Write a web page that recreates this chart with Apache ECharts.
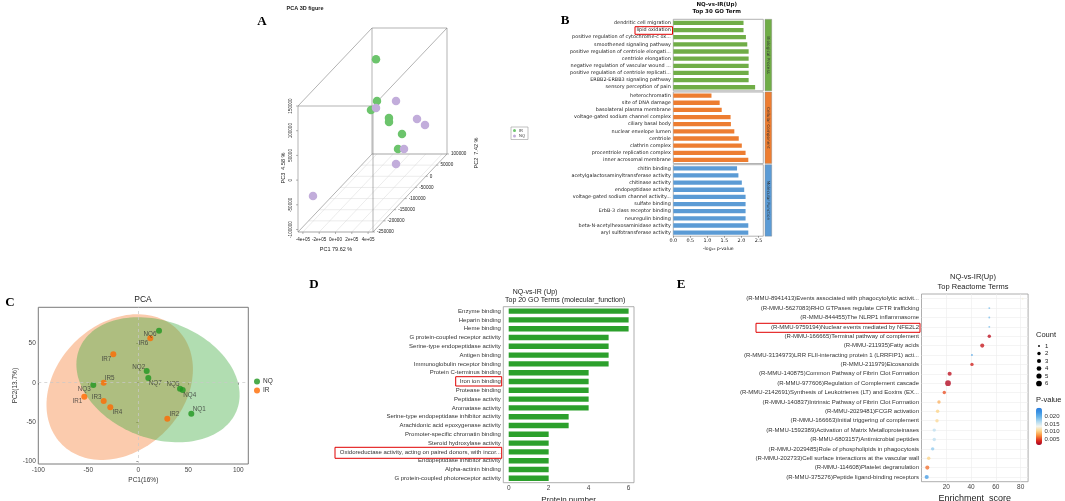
<!DOCTYPE html>
<html><head><meta charset="utf-8">
<style>html,body{margin:0;padding:0;background:#fff}#c{width:1065px;height:501px}</style>
<script src="https://cdn.jsdelivr.net/npm/echarts@6/dist/echarts.min.js"></script>
</head><body><div id="c"></div><script>
// ================= DATA =================
// Panel A : 3D PCA (PC1, PC2, PC3 scores)
const A_IR_PC1 = [-48000, 55000, 163000, 202000, 248000, 271000, 313000];
const A_IR_PC2 = [-40000, -75000, -145000, -75000, -92500, -40000, -75000];
const A_IR_PC3 = [150000, 81000, 94500, 47000, 46500, -1500, -16000];
const A_NQ_PC1 = [107000, 179000, 273500, 326000, 341000, 334000, -367000];
const A_NQ_PC2 = [-5000, -127500, 30000, 47500, -57500, -92500, -215000];
const A_NQ_PC3 = [49500, 90500, -2500, -22500, -24000, -38500, -48000];
const A_PC1_TICKS = [-400000, -200000, 0, 200000, 400000];
const A_PC1_TICK_LABELS = ['-4e+05', '-2e+05', '0e+00', '2e+05', '4e+05'];
const A_PC2_TICKS = [100000, 50000, 0, -50000, -100000, -150000, -200000, -250000];
const A_PC3_TICKS = [150000, 100000, 50000, 0, -50000, -100000];

// Panel B : Top 30 GO terms (-log10 p)
const B_BP_TERMS = ['dendritic cell migration', 'lipid oxidation', 'positive regulation of cytochrome-c ox...', 'smoothened signaling pathway', 'positive regulation of centriole elongati...', 'centriole elongation', 'negative regulation of vascular wound ...', 'positive regulation of centriole replicati...', 'ERBB2-ERBB3 signaling pathway', 'sensory perception of pain'];
const B_BP_VALUES = [2.06, 2.06, 2.13, 2.17, 2.21, 2.21, 2.21, 2.21, 2.21, 2.40];
const B_CC_TERMS = ['heterochromatin', 'site of DNA damage', 'basolateral plasma membrane', 'voltage-gated sodium channel complex', 'ciliary basal body', 'nuclear envelope lumen', 'centriole', 'clathrin complex', 'procentriole replication complex', 'inner acrosomal membrane'];
const B_CC_VALUES = [1.12, 1.36, 1.42, 1.68, 1.69, 1.79, 1.92, 2.01, 2.12, 2.20];
const B_MF_TERMS = ['chitin binding', 'acetylgalactosaminyltransferase activity', 'chitinase activity', 'endopeptidase activity', 'voltage-gated sodium channel activity...', 'sulfate binding', 'ErbB-3 class receptor binding', 'neuregulin binding', 'beta-N-acetylhexosaminidase activity', 'aryl sulfotransferase activity'];
const B_MF_VALUES = [1.87, 1.91, 2.01, 2.08, 2.12, 2.12, 2.12, 2.12, 2.20, 2.20];
const B_X_TICKS = [0, 0.5, 1.0, 1.5, 2.0, 2.5];

// Panel C : 2D PCA
const C_NQ_NAMES = ['NQ1', 'NQ2', 'NQ3', 'NQ4', 'NQ5', 'NQ6', 'NQ7'];
const C_NQ_PC1 = [53, 8.4, -45, 44.4, 41.7, 20.7, 10];
const C_NQ_PC2 = [-39.4, 14.9, -2.9, -9.3, -7.6, 66.2, 6];
const C_IR_NAMES = ['IR1', 'IR2', 'IR3', 'IR4', 'IR5', 'IR6', 'IR7'];
const C_IR_PC1 = [-54, 29, -34.6, -28, -34.6, 12, -25];
const C_IR_PC2 = [-17.8, -45.8, -23.3, -31.3, 0, 56.5, 36.1];
const C_X_TICKS = [-100, -50, 0, 50, 100];
const C_Y_TICKS = [-100, -50, 0, 50];
// group confidence ellipses (centre, semi-axes, tilt)
const C_ELLIPSE_IR = {cx: -18.6, cy: -5.5, rx: 72, ry: 92.5, kx: 0.143, ky: 0.083};
const C_ELLIPSE_NQ = {cx: 19.7, cy: 3.8, rx: 81, ry: 79, kx: -0.127, ky: -0.12};

// Panel D : Top 20 GO terms (protein number)
const D_TERMS = ['Enzyme binding', 'Heparin binding', 'Heme binding', 'G protein-coupled receptor activity', 'Serine-type endopeptidase activity', 'Antigen binding', 'Immunoglobulin receptor binding', 'Protein C-terminus binding', 'Iron ion binding', 'Protease binding', 'Peptidase activity', 'Aromatase activity', 'Serine-type endopeptidase inhibitor activity', 'Arachidonic acid epoxygenase activity', 'Promoter-specific chromatin binding', 'Steroid hydroxylase activity', 'Oxidoreductase activity, acting on paired donors, with incor...', 'Endopeptidase inhibitor activity', 'Alpha-actinin binding', 'G protein-coupled photoreceptor activity'];
const D_COUNTS = [6, 6, 6, 5, 5, 5, 5, 4, 4, 4, 4, 4, 3, 3, 2, 2, 2, 2, 2, 2];
const D_X_TICKS = [0, 2, 4, 6];

// Panel E : Top Reactome terms
const E_TERMS = ['(R-MMU-8941413)Events associated with phagocytolytic activit...', '(R-MMU-5627083)RHO GTPases regulate CFTR trafficking', '(R-MMU-844455)The NLRP1 inflammasome', '(R-MMU-9759194)Nuclear events mediated by NFE2L2', '(R-MMU-166665)Terminal pathway of complement', '(R-MMU-211935)Fatty acids', '(R-MMU-3134973)LRR FLII-interacting protein 1 (LRRFIP1) acti...', '(R-MMU-211979)Eicosanoids', '(R-MMU-140875)Common Pathway of Fibrin Clot Formation', '(R-MMU-977606)Regulation of Complement cascade', '(R-MMU-2142691)Synthesis of Leukotrienes (LT) and Eoxins (EX...', '(R-MMU-140837)Intrinsic Pathway of Fibrin Clot Formation', '(R-MMU-2029481)FCGR activation', '(R-MMU-166663)Initial triggering of complement', '(R-MMU-1592389)Activation of Matrix Metalloproteinases', '(R-MMU-6803157)Antimicrobial peptides', '(R-MMU-2029485)Role of phospholipids in phagocytosis', '(R-MMU-202733)Cell surface interactions at the vascular wall', '(R-MMU-114608)Platelet degranulation', '(R-MMU-375276)Peptide ligand-binding receptors'];
const E_SCORES = [81.6, 54.7, 54.7, 54.7, 54.7, 49, 40.7, 40.7, 22.7, 21.4, 18.4, 14.1, 13.0, 12.5, 10.3, 10.3, 9.0, 5.8, 4.7, 4.2];
const E_COUNTS = [1, 1, 1, 1, 2, 3, 1, 2, 3, 6, 2, 2, 2, 2, 2, 2, 2, 2, 3, 3];
const E_PVALUES = [0.013, 0.019, 0.019, 0.019, 0.0025, 0.003, 0.021, 0.0035, 0.0025, 0.002, 0.0055, 0.009, 0.0105, 0.011, 0.016, 0.016, 0.018, 0.0105, 0.0065, 0.022];
const E_X_TICKS = [20, 40, 60, 80];
const E_COUNT_LEVELS = [1, 2, 3, 4, 5, 6];
const E_P_TICKS = [0.020, 0.015, 0.010, 0.005];

// ================= STYLE / LAYOUT =================
const SANS = 'Liberation Sans';
const COUNT_SIZE = {1: 1.9, 2: 3.4, 3: 4.1, 4: 4.7, 5: 5.2, 6: 5.7};
const A_BOX = {pc1: [-460000, 460000], pc2: [-250000, 100000], pc3: [-105000, 150000]};
const A_FRONT = {x0: 298, x1: 373, y0: 232, y1: 106, dx: 74, dy: -78};
function projA(p1, p2, p3) {
  const fx = A_FRONT.x0 + (p1 - A_BOX.pc1[0]) / (A_BOX.pc1[1] - A_BOX.pc1[0]) * (A_FRONT.x1 - A_FRONT.x0);
  const fy = A_FRONT.y0 + (p3 - A_BOX.pc3[0]) / (A_BOX.pc3[1] - A_BOX.pc3[0]) * (A_FRONT.y1 - A_FRONT.y0);
  const d = (p2 - A_BOX.pc2[0]) / (A_BOX.pc2[1] - A_BOX.pc2[0]);
  return [fx + d * A_FRONT.dx, fy + d * A_FRONT.dy];
}
function txt(text, x, y, o) {
  o = o || {};
  return {type: 'text', x: x, y: y, rotation: o.rot || 0, z: 100,
    style: {text: text, fontSize: o.size || 6, fontFamily: o.family || SANS, fontWeight: o.weight || 'normal',
      fill: o.color || '#222', textAlign: o.align || 'center', align: o.align || 'center',
      textVerticalAlign: 'middle', verticalAlign: 'middle'}};
}
function lineEl(p, q, color, w) {
  return {type: 'line', shape: {x1: p[0], y1: p[1], x2: q[0], y2: q[1]}, style: {stroke: color, lineWidth: w}};
}

function renderABox(params, api) {
  const ch = [];
  const P = (a, b, c) => api.coord(projA(a, b, c));
  const [x0, x1] = A_BOX.pc1, [y0, y1] = A_BOX.pc2, [z0, z1] = A_BOX.pc3;
  A_PC1_TICKS.forEach(v => ch.push(lineEl(P(v, y0, z0), P(v, y1, z0), '#d9d9d9', 0.5)));
  A_PC2_TICKS.forEach(v => ch.push(lineEl(P(x0, v, z0), P(x1, v, z0), '#d9d9d9', 0.5)));
  const E = '#808080', W = 0.6;
  const corners = [[x0, y0, z0], [x1, y0, z0], [x1, y0, z1], [x0, y0, z1], [x0, y1, z0], [x1, y1, z0], [x1, y1, z1], [x0, y1, z1]];
  const edges = [[0,1],[1,2],[2,3],[3,0],[4,5],[5,6],[6,7],[7,4],[0,4],[1,5],[2,6],[3,7]];
  edges.forEach(e => ch.push(lineEl(P(...corners[e[0]]), P(...corners[e[1]]), E, W)));
  A_PC1_TICKS.forEach((v, i) => {
    const p = P(v, y0, z0);
    ch.push(lineEl(p, [p[0], p[1] + 2], E, W));
    ch.push(txt(A_PC1_TICK_LABELS[i], p[0], p[1] + 8, {size: 4.6}));
  });
  A_PC3_TICKS.forEach(v => {
    const p = P(x0, y0, v);
    ch.push(lineEl(p, [p[0] - 2, p[1]], E, W));
    ch.push(txt(String(v), p[0] - 7, p[1], {size: 4.6, rot: Math.PI / 2}));
  });
  A_PC2_TICKS.forEach(v => {
    const p = P(x1, v, z0);
    ch.push(lineEl(p, [p[0] + 2, p[1]], E, W));
    ch.push(txt(String(v), p[0] + 4, p[1], {size: 4.6, align: 'left'}));
  });
  return {type: 'group', children: ch};
}

function ellipsePts(e) {
  const pts = [];
  for (let i = 0; i < 140; i++) {
    const t = i / 140 * 2 * Math.PI;
    pts.push([e.cx + e.rx * Math.cos(t) + e.kx * e.ry * Math.sin(t), e.cy + e.ry * Math.sin(t) + e.ky * e.rx * Math.cos(t)]);
  }
  return pts;
}
const C_ELLIPSES = [C_ELLIPSE_IR, C_ELLIPSE_NQ];
const C_ELLIPSE_FILL = ['rgba(245,130,60,0.42)', 'rgba(60,170,60,0.40)'];
function renderEllipse(params, api) {
  const pts = ellipsePts(C_ELLIPSES[params.dataIndex]).map(p => api.coord(p));
  return {type: 'polygon', shape: {points: pts}, style: {fill: C_ELLIPSE_FILL[params.dataIndex], stroke: 'none'}};
}
const C_LABEL_OFFSET = {NQ1: [8, -4], NQ2: [-8, -4], NQ3: [-9, 4], NQ4: [7, 5], NQ5: [-7, -4], NQ6: [-9, 4], NQ7: [7, 5],
  IR1: [-7, 5], IR2: [7, -4], IR3: [-7, -4], IR4: [7, 5], IR5: [6, -4], IR6: [-7, 5], IR7: [-7, 5]};
function cData(names, xs, ys) {
  return names.map((n, i) => ({name: n, value: [xs[i], ys[i]], label: {offset: C_LABEL_OFFSET[n]}}));
}

const gridBase = {containLabel: false, outerBoundsMode: 'none'};
const B_TOPS = [19.3, 92.0, 164.7], B_H = 71.5, B_LEFT = 673.3, B_W = 90;
const grids = [
  Object.assign({left: 0, top: 0, width: 1065, height: 501}, gridBase),
  ...B_TOPS.map(t => Object.assign({left: B_LEFT, top: t, width: B_W, height: B_H, show: true, borderColor: '#a0a0a0', borderWidth: 0.8}, gridBase)),
  Object.assign({left: 38.3, top: 307.3, width: 210, height: 156.7, show: true, borderColor: '#7a7a7a', borderWidth: 1}, gridBase),
  Object.assign({left: 503.3, top: 306.7, width: 130.7, height: 176, show: true, borderColor: '#9a9a9a', borderWidth: 0.8}, gridBase),
  Object.assign({left: 921.5, top: 294, width: 106.6, height: 187.7, show: true, borderColor: '#9a9a9a', borderWidth: 0.8}, gridBase)
];

const bTerms = [B_BP_TERMS, B_CC_TERMS, B_MF_TERMS];
const bVals = [B_BP_VALUES, B_CC_VALUES, B_MF_VALUES];
const bColors = ['#70AD47', '#ED7D31', '#5B9BD5'];

const xAxes = [
  {gridIndex: 0, type: 'value', min: 0, max: 1065, show: false},
  ...[0, 1, 2].map(k => ({gridIndex: k + 1, type: 'value', min: 0, max: 2.64,
    axisLine: {show: false}, splitLine: {show: false},
    axisTick: {show: k === 2, length: 1.5, lineStyle: {color: '#333', width: 0.5}, customValues: B_X_TICKS},
    axisLabel: {show: k === 2, fontSize: 4.9, fontFamily: 'DejaVu Sans', color: '#222', margin: 2.5, customValues: B_X_TICKS, formatter: v => v.toFixed(1)},
    name: k === 2 ? '-log\u2081\u2080 p-value' : '', nameLocation: 'middle', nameGap: 10,
    nameTextStyle: {fontSize: 4.6, fontFamily: 'DejaVu Sans', color: '#222'}})),
  {gridIndex: 4, type: 'value', min: -100, max: 110, axisLine: {show: false}, splitLine: {show: false},
    axisTick: {length: 2, lineStyle: {color: '#555', width: 0.6}, customValues: C_X_TICKS},
    axisLabel: {fontSize: 6.5, color: '#444', margin: 2.5, customValues: C_X_TICKS},
    name: 'PC1(16%)', nameLocation: 'middle', nameGap: 13, nameTextStyle: {fontSize: 6.5, color: '#333'}},
  {gridIndex: 5, type: 'value', min: -0.27, max: 6.27, axisLine: {show: false}, splitLine: {show: false},
    axisTick: {length: 2, lineStyle: {color: '#555', width: 0.6}, customValues: D_X_TICKS},
    axisLabel: {fontSize: 6.5, color: '#444', margin: 2.5, customValues: D_X_TICKS},
    name: 'Protein number', nameLocation: 'middle', nameGap: 13, nameTextStyle: {fontSize: 8, color: '#222'}},
  {gridIndex: 6, type: 'value', min: 0, max: 86, interval: 10, axisLine: {show: false},
    splitLine: {show: true, lineStyle: {color: '#ececec', width: 0.6}},
    axisTick: {length: 2, lineStyle: {color: '#555', width: 0.6}, customValues: E_X_TICKS},
    axisLabel: {fontSize: 6.5, color: '#444', margin: 2.5, customValues: E_X_TICKS},
    name: 'Enrichment_score', nameLocation: 'middle', nameGap: 12, nameTextStyle: {fontSize: 9, color: '#222'}}
];
const yAxes = [
  {gridIndex: 0, type: 'value', min: 0, max: 501, inverse: true, show: false},
  ...[0, 1, 2].map(k => ({gridIndex: k + 1, type: 'category', data: bTerms[k], inverse: true,
    axisLine: {show: false}, splitLine: {show: false},
    axisTick: {length: 1.5, alignWithLabel: true, lineStyle: {color: '#333', width: 0.5}},
    axisLabel: {fontSize: 4.9, fontFamily: 'DejaVu Sans', color: '#222', margin: 2.5, interval: 0}})),
  {gridIndex: 4, type: 'value', min: -103.4, max: 96, axisLine: {show: false}, splitLine: {show: false},
    axisTick: {length: 2, lineStyle: {color: '#555', width: 0.6}, customValues: C_Y_TICKS},
    axisLabel: {fontSize: 6.5, color: '#444', margin: 2.5, customValues: C_Y_TICKS},
    name: 'PC2(13.7%)', nameLocation: 'middle', nameGap: 19, nameTextStyle: {fontSize: 6.5, color: '#333'}},
  {gridIndex: 5, type: 'category', data: D_TERMS, inverse: true, axisLine: {show: false}, splitLine: {show: false},
    axisTick: {length: 2, alignWithLabel: true, lineStyle: {color: '#555', width: 0.6}},
    axisLabel: {fontSize: 6, color: '#333', margin: 2.5, interval: 0}},
  {gridIndex: 6, type: 'category', data: E_TERMS, inverse: true, axisLine: {show: false},
    splitLine: {show: true, alignWithLabel: true, interval: 0, lineStyle: {color: '#ececec', width: 0.6}},
    axisTick: {length: 2, alignWithLabel: true, lineStyle: {color: '#555', width: 0.6}},
    axisLabel: {fontSize: 6, color: '#333', margin: 2.5, interval: 0}}
];

const series = [
  {type: 'custom', xAxisIndex: 0, yAxisIndex: 0, data: [0], renderItem: renderABox, silent: true, z: 1},
  {name: 'A_IR', type: 'scatter', xAxisIndex: 0, yAxisIndex: 0, symbolSize: 8.5, itemStyle: {color: '#6cc46c', opacity: 1}, z: 3,
    data: A_IR_PC1.map((v, i) => projA(v, A_IR_PC2[i], A_IR_PC3[i]))},
  {name: 'A_NQ', type: 'scatter', xAxisIndex: 0, yAxisIndex: 0, symbolSize: 8.5, itemStyle: {color: '#c2addb', opacity: 1}, z: 3,
    data: A_NQ_PC1.map((v, i) => projA(v, A_NQ_PC2[i], A_NQ_PC3[i]))},
  ...[0, 1, 2].map(k => ({type: 'bar', xAxisIndex: k + 1, yAxisIndex: k + 1, data: bVals[k], barWidth: 4.3, itemStyle: {color: bColors[k]}})),
  {type: 'custom', xAxisIndex: 4, yAxisIndex: 4, data: [0, 1], renderItem: renderEllipse, silent: true, z: 1},
  {name: 'NQ', type: 'scatter', xAxisIndex: 4, yAxisIndex: 4, symbolSize: 6, itemStyle: {color: '#1f961f'}, z: 4,
    data: cData(C_NQ_NAMES, C_NQ_PC1, C_NQ_PC2),
    label: {show: true, position: 'inside', formatter: '{b}', fontSize: 6.3, color: '#333'},
    markLine: {silent: true, symbol: 'none', label: {show: false}, lineStyle: {color: '#c8c8c8', type: [3, 3], width: 0.7},
      data: [{xAxis: 0}, {yAxis: 0}]}},
  {name: 'IR', type: 'scatter', xAxisIndex: 4, yAxisIndex: 4, symbolSize: 6, itemStyle: {color: '#ff6a00'}, z: 4,
    data: cData(C_IR_NAMES, C_IR_PC1, C_IR_PC2),
    label: {show: true, position: 'inside', formatter: '{b}', fontSize: 6.3, color: '#333'}},
  {type: 'bar', xAxisIndex: 5, yAxisIndex: 5, data: D_COUNTS, barWidth: 5.4, itemStyle: {color: '#2ca02c'}},
  {type: 'scatter', xAxisIndex: 6, yAxisIndex: 6, z: 4,
    data: E_SCORES.map((s, i) => [s, i, E_COUNTS[i], E_PVALUES[i]]),
    symbolSize: v => COUNT_SIZE[v[2]]}
];

const graphic = [
  // panel letters
  txt('A', 262, 22, {size: 13, family: 'Liberation Serif', weight: 'bold', color: '#000'}),
  txt('B', 565, 21, {size: 13, family: 'Liberation Serif', weight: 'bold', color: '#000'}),
  txt('C', 10, 303, {size: 13, family: 'Liberation Serif', weight: 'bold', color: '#000'}),
  txt('D', 314, 285, {size: 13, family: 'Liberation Serif', weight: 'bold', color: '#000'}),
  txt('E', 681, 285, {size: 13, family: 'Liberation Serif', weight: 'bold', color: '#000'}),
  // titles
  txt('PCA 3D figure', 305, 8, {size: 5.5, weight: 'bold'}),
  txt('PC1 79.62 %', 336, 249, {size: 5.5}),
  txt('PC3  4.58 %', 283, 168, {size: 5.5, rot: Math.PI / 2}),
  txt('PC2  7.42 %', 476, 153, {size: 5.5, rot: Math.PI / 2}),
  txt('NQ-vs-IR(Up)', 716.7, 4.5, {size: 5.5, weight: 'bold', family: 'DejaVu Sans', color: '#111'}),
  txt('Top 30 GO Term', 716.7, 11.8, {size: 5.5, weight: 'bold', family: 'DejaVu Sans', color: '#111'}),
  txt('PCA', 143, 300, {size: 8.5, color: '#222'}),
  txt('NQ-vs-IR (Up)', 512.7, 292, {size: 7, align: 'left', color: '#222'}),
  txt('Top 20 GO Terms (molecular_function)', 505, 300.5, {size: 7, align: 'left', color: '#222'}),
  txt('NQ-vs-IR(Up)', 973, 277, {size: 7.5, color: '#222'}),
  txt('Top Reactome Terms', 973, 287, {size: 7.5, color: '#222'}),
  // B facet strips
  ...['Biological Process', 'Cellular Component', 'Molecular Function'].flatMap((s, k) => [
    {type: 'rect', shape: {x: 765, y: B_TOPS[k], width: 6.7, height: B_H}, style: {fill: bColors[k], stroke: '#888', lineWidth: 0.4}},
    txt(s, 768.35, B_TOPS[k] + B_H / 2, {size: 4.2, family: 'DejaVu Sans', color: '#333', rot: -Math.PI / 2})
  ]),
  // E count legend
  txt('Count', 1036, 335, {size: 7.5, align: 'left', color: '#222'}),
  ...E_COUNT_LEVELS.flatMap((c, i) => [
    {type: 'circle', shape: {cx: 1039, cy: 346 + i * 7.5, r: COUNT_SIZE[c] / 2}, style: {fill: '#000'}},
    txt(String(c), 1045, 346 + i * 7.5, {size: 6, align: 'left', color: '#222'})
  ]),
  txt('P-value', 1036, 400, {size: 7.5, align: 'left', color: '#222'}),
  ...E_P_TICKS.map((p, i) => txt(p.toFixed(3), 1044.5, 416.7 + i * 7.5, {size: 6, align: 'left', color: '#333'})),
  // red highlight boxes
  {type: 'rect', z: 100, shape: {x: 635, y: 26.7, width: 37.5, height: 7.6}, style: {fill: 'none', stroke: '#e00000', lineWidth: 1}},
  {type: 'rect', z: 100, shape: {x: 455.7, y: 376.7, width: 46, height: 9.3}, style: {fill: 'none', stroke: '#e00000', lineWidth: 1}},
  {type: 'rect', z: 100, shape: {x: 335, y: 447.3, width: 166.7, height: 11}, style: {fill: 'none', stroke: '#e00000', lineWidth: 1}},
  {type: 'rect', z: 100, shape: {x: 756, y: 323.3, width: 164, height: 9}, style: {fill: 'none', stroke: '#e00000', lineWidth: 1}}
];

const option = {
  animation: false,
  backgroundColor: '#fff',
  textStyle: {fontFamily: SANS},
  grid: grids,
  xAxis: xAxes,
  yAxis: yAxes,
  series: series,
  legend: [
    {data: ['NQ', 'IR'], orient: 'vertical', left: 254, top: 378, itemWidth: 6, itemHeight: 6, itemGap: 2, icon: 'circle',
      padding: 0, textStyle: {fontSize: 6.5, color: '#333', padding: [0, 0, 0, -2]}, selectedMode: false},
    {data: ['A_IR', 'A_NQ'], orient: 'vertical', left: 511, top: 127, itemWidth: 3, itemHeight: 3, itemGap: 1.5, icon: 'circle',
      padding: [1.5, 3, 1.5, 2], borderColor: '#999', borderWidth: 0.6, formatter: n => n.slice(2),
      textStyle: {fontSize: 4, color: '#333', padding: [0, 0, 0, -2]}, selectedMode: false}
  ],
  visualMap: {type: 'continuous', seriesIndex: 10, dimension: 3, min: 0.0012, max: 0.026, calculable: false,
    left: 1036, top: 407.7, itemWidth: 6, itemHeight: 37.3, padding: 0, text: null, showLabel: false,
    inRange: {color: ['#a50026', '#e0301e', '#f98e3c', '#fdd58a', '#f2f5f0', '#b2daf0', '#6bb6ea', '#3d95e4', '#2a7de0']}},
  graphic: graphic
};
const chart = echarts.init(document.getElementById('c'), null, {width: 1065, height: 501});
chart.setOption(option);
</script></body></html>
